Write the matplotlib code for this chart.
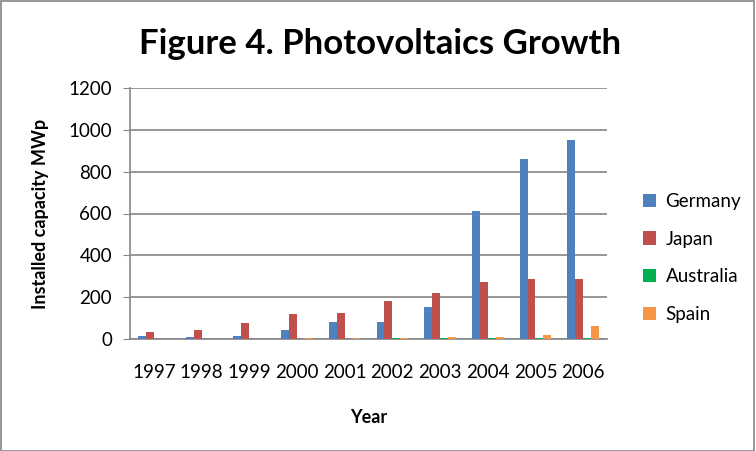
import numpy as np
import matplotlib
matplotlib.use("Agg")
import matplotlib.pyplot as plt

years = ["1997", "1998", "1999", "2000", "2001", "2002", "2003", "2004", "2005", "2006"]
germany = [16, 11, 16, 44, 82, 82, 154, 611, 859, 950]
japan = [35, 44, 78, 120, 125, 182, 220, 273, 287, 287]
australia = [0, 0, 0, 0, 0, 6, 6, 6, 6, 6]
spain = [0, 0, 0, 6, 6, 6, 8, 11, 20, 63]

series = [("Germany", germany, "#4f81bd"), ("Japan", japan, "#c0504d"),
          ("Australia", australia, "#00b050"), ("Spain", spain, "#f79646")]

plt.rcParams["font.family"] = ["Lato", "DejaVu Sans"]

fig = plt.figure(figsize=(7.56, 4.51), dpi=100)
fig.patches.append(plt.Rectangle((0.001, 0.001), 0.997, 0.996, transform=fig.transFigure,
                                 fill=False, edgecolor="#868686", linewidth=1.2))
ax = fig.add_axes([130/756, 1 - 339/451, 477/756, 251/451])

x = np.arange(len(years))
w = 0.166
for i, (name, vals, col) in enumerate(series):
    ax.bar(x + (i - 1.5) * w, vals, width=w, color=col, label=name, zorder=3)

ax.set_xlim(-0.5, len(years) - 0.5)
ax.set_ylim(0, 1200)
ax.set_yticks(range(0, 1201, 200))
ax.set_xticks(x)
ax.set_xticklabels(years)
ax.yaxis.grid(True, color="#868686", linewidth=1.2, zorder=0)
for s in ["top", "right"]:
    ax.spines[s].set_visible(False)
for s in ["left", "bottom"]:
    ax.spines[s].set_color("#868686")
    ax.spines[s].set_linewidth(1.2)
ax.tick_params(axis="x", length=0, labelsize=13.5, pad=18)
ax.tick_params(axis="y", length=5, color="#868686", labelsize=13.5, pad=8)

ax.set_xlabel("Year", fontsize=13, fontweight="bold", labelpad=20)
ax.set_ylabel("Installed capacity MWp", fontsize=13, fontweight="bold", labelpad=14)
fig.text(380/756, 1 - 44/451, "Figure 4. Photovoltaics Growth", fontsize=25,
         fontweight="bold", ha="center", va="center")

ax.legend(loc="center left", bbox_to_anchor=(1.04, 0.323), frameon=False, fontsize=13.5,
          handlelength=0.7, handleheight=0.7, labelspacing=1.1, handletextpad=0.5)

fig.savefig("out.png", dpi=100)
